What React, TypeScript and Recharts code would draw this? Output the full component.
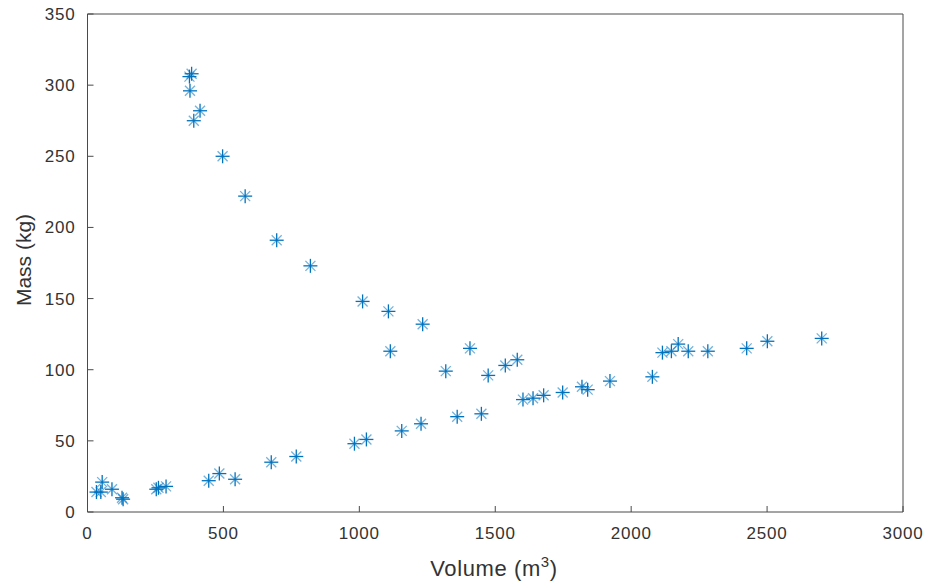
import { ScatterChart, Scatter, XAxis, YAxis } from 'recharts';

// values (volume in m^3, mass in kg)
const volume = [
  383, 375, 377, 414, 391, 497, 580, 696, 820, 1012, 1107, 1233, 1114, 1318, 1407, 1474, 1537, 1581,
  54, 49, 33, 90, 127, 131, 253, 261, 289, 446, 485, 543, 676, 768, 982, 1026, 1156, 1227, 1360,
  1449, 1602, 1639, 1678, 1748, 1819, 1840, 1922, 2078, 2115, 2148, 2173, 2210, 2282, 2425, 2501, 2701,
];
const mass = [
  308, 306, 296, 282, 275, 250, 222, 191, 173, 148, 141, 132, 113, 99, 115, 96, 103, 107,
  21, 14, 14, 16, 10, 9, 16, 17, 18, 22, 27, 23, 35, 39, 48, 51, 57, 62, 67,
  69, 79, 80, 82, 84, 88, 86, 92, 95, 112, 113, 118, 113, 113, 115, 120, 122,
];
const xTicks = [0, 500, 1000, 1500, 2000, 2500, 3000];
const yTicks = [0, 50, 100, 150, 200, 250, 300, 350];

const points = volume.map((v, i) => ({ x: v, y: mass[i] }));

const AXIS = '#4a4a4a';
const TEXT = '#333333';
const BLUE = '#0072BD';
const FONT = '"Liberation Sans", Arial, sans-serif';

const Asterisk = (props: any) => {
  const { cx, cy } = props;
  const r = 7;
  const d = 5;
  return (
    <g stroke={BLUE} strokeWidth={1.3}>
      <line x1={cx - r} y1={cy} x2={cx + r} y2={cy} />
      <line x1={cx} y1={cy - r} x2={cx} y2={cy + r} />
      <line x1={cx - d} y1={cy - d} x2={cx + d} y2={cy + d} strokeOpacity={0.55} />
      <line x1={cx - d} y1={cy + d} x2={cx + d} y2={cy - d} strokeOpacity={0.55} />
    </g>
  );
};

const tickStyle = { fill: TEXT, fontSize: 17, fontFamily: FONT, letterSpacing: 0.8 };

const App = () => (
  <div style={{ position: 'absolute', left: 0, top: 0, background: '#fff' }}>
    <ScatterChart width={930} height={583} margin={{ top: 13, right: 26, left: 0, bottom: 0 }}>
      <XAxis
        type="number"
        dataKey="x"
        domain={[0, 3000]}
        ticks={xTicks}
        height={71}
        tickSize={-6}
        tickMargin={21}
        axisLine={{ stroke: AXIS }}
        tickLine={{ stroke: AXIS }}
        tick={tickStyle}
        label={{
          content: () => (
            <text x={494} y={576} textAnchor="middle" fill={TEXT} fontSize={22} fontFamily={FONT} letterSpacing={0.6}>
              Volume (m
              <tspan dy={-9} fontSize={15}>3</tspan>
              <tspan dy={9}>)</tspan>
            </text>
          ),
        }}
      />
      <XAxis
        xAxisId="top"
        orientation="top"
        type="number"
        dataKey="x"
        domain={[0, 3000]}
        ticks={xTicks}
        height={1}
        tickSize={-6}
        tick={false}
        axisLine={{ stroke: AXIS }}
        tickLine={{ stroke: AXIS }}
      />
      <YAxis
        type="number"
        dataKey="y"
        domain={[0, 350]}
        ticks={yTicks}
        width={87.5}
        tickSize={-6}
        tickMargin={18}
        axisLine={{ stroke: AXIS }}
        tickLine={{ stroke: AXIS }}
        tick={tickStyle}
        label={{
          content: () => (
            <text
              x={31}
              y={260}
              transform="rotate(-90 31 260)"
              textAnchor="middle"
              fill={TEXT}
              fontSize={21}
              fontFamily={FONT}
            >
              Mass (kg)
            </text>
          ),
        }}
      />
      <YAxis
        yAxisId="right"
        orientation="right"
        type="number"
        dataKey="y"
        domain={[0, 350]}
        ticks={yTicks}
        width={1}
        tickSize={-6}
        tick={false}
        axisLine={{ stroke: AXIS }}
        tickLine={{ stroke: AXIS }}
      />
      <Scatter data={points} shape={<Asterisk />} isAnimationActive={false} />
    </ScatterChart>
  </div>
);

export default App;
